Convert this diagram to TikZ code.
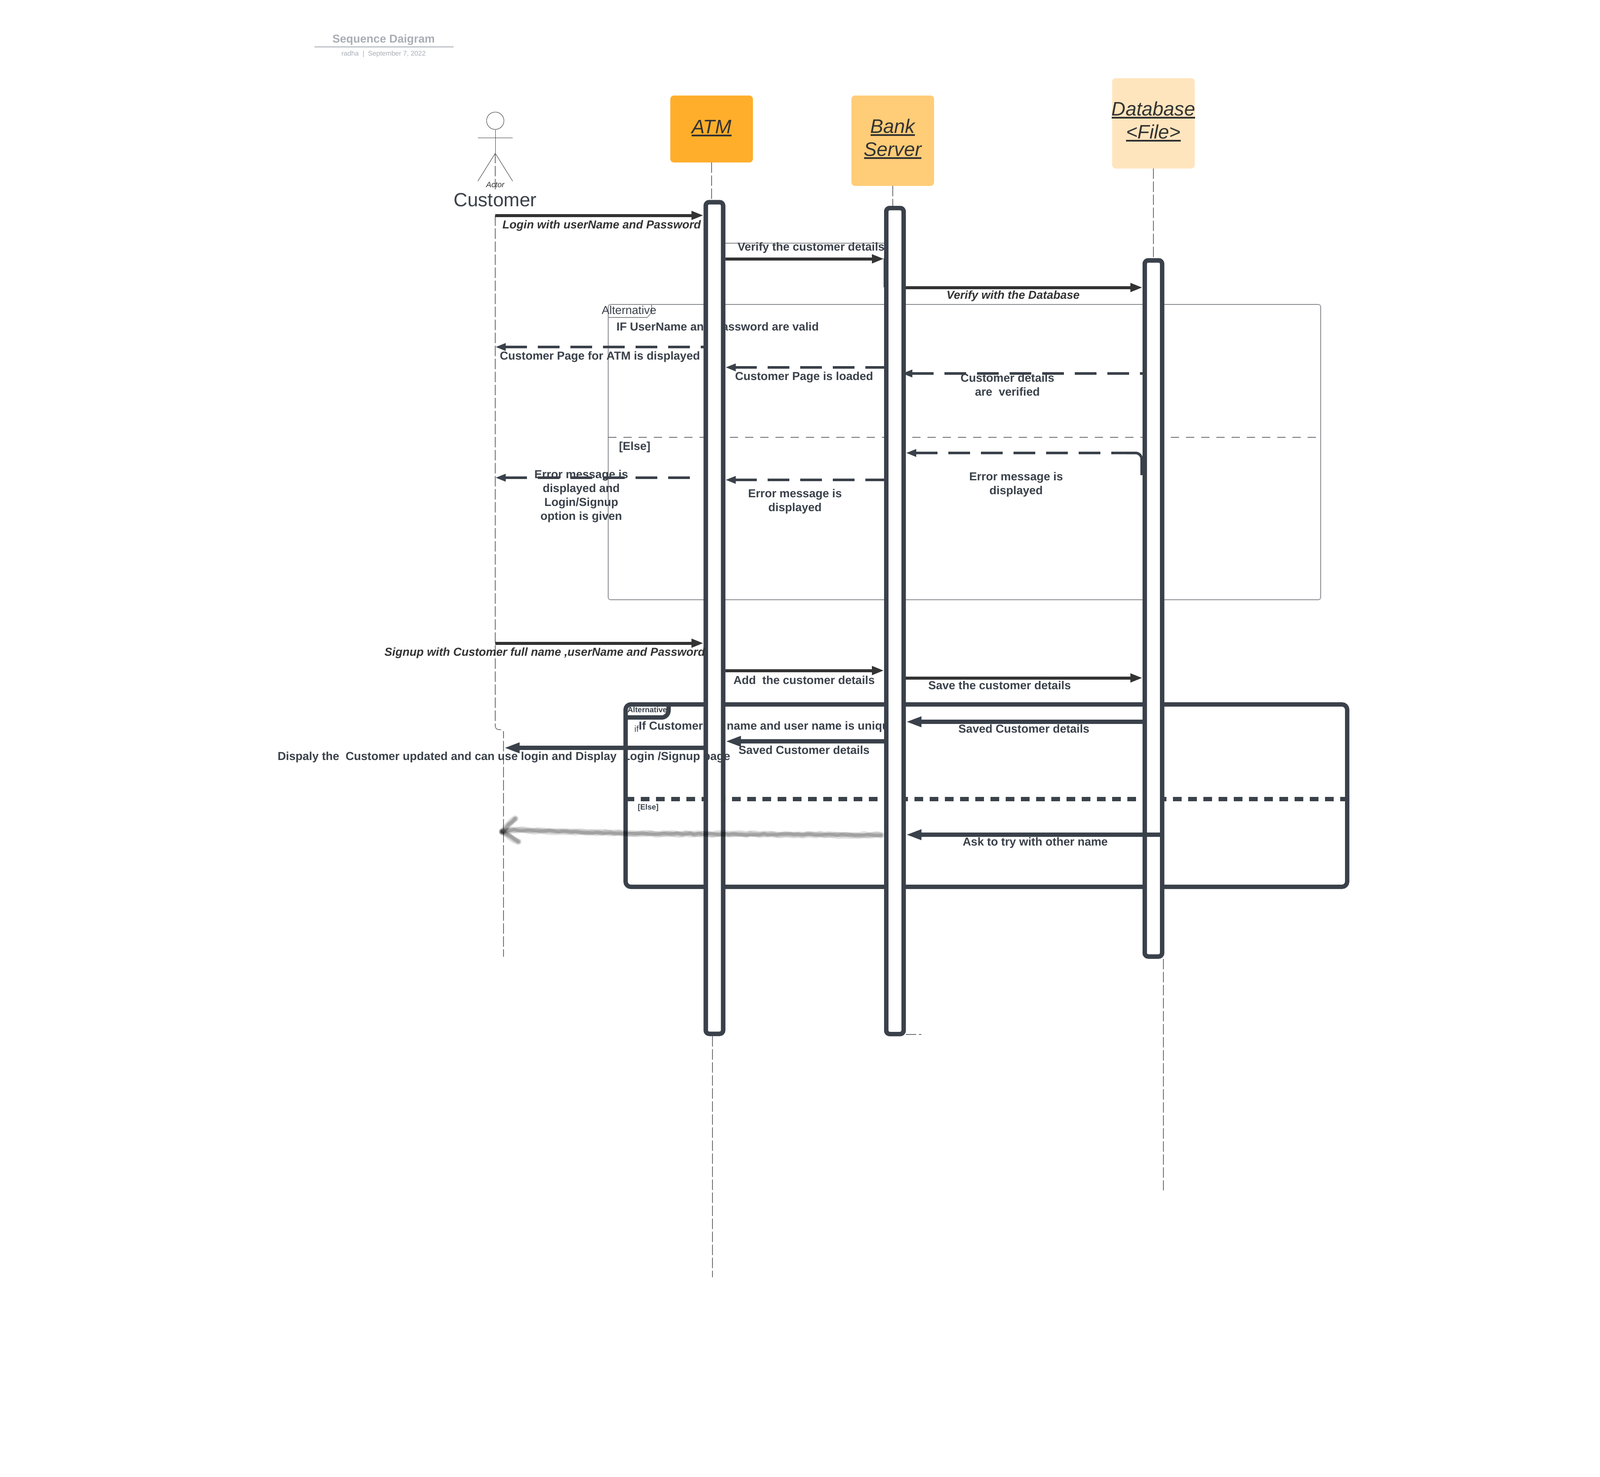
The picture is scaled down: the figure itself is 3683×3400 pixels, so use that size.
\documentclass[tikz,border=0pt]{standalone}
\usepackage{fontspec}
\setmainfont{Liberation Sans}
\usetikzlibrary{arrows.meta,decorations.pathmorphing}
\definecolor{ink}{HTML}{3A414A}
\definecolor{arrowink}{HTML}{333333}
\definecolor{atmcol}{HTML}{FFAE2B}
\definecolor{bankcol}{HTML}{FFCC78}
\definecolor{dbcol}{HTML}{FFE5BE}
\definecolor{titlecol}{HTML}{A9AEB6}
\definecolor{lifecol}{HTML}{6F7276}
\definecolor{framecol}{HTML}{8A8D91}
\newcommand{\ulbox}[1]{\sbox0{#1}\hbox{\rlap{\usebox0}\rlap{\raisebox{-3.2pt}{\rule{\wd0}{1.8pt}}}\kern\wd0}}
\tikzset{
  x=0.5pt,y=-0.5pt,
  lbl/.style={font=\fontsize{13.3}{16}\selectfont\bfseries,text=ink,inner sep=0pt,align=center,yshift=-1.2pt},
  ilbl/.style={font=\fontsize{13.3}{16}\selectfont\bfseries\itshape,text=arrowink,inner sep=0pt,align=center,yshift=-1.2pt},
  head/.style={font=\fontsize{22.5}{26.5}\selectfont\itshape,text=arrowink,inner sep=0pt,align=center,yshift=-1pt},
  objbox/.style={rounded corners=4pt,inner sep=0pt},
  activ/.style={draw=ink,line width=5pt,rounded corners=4pt,minimum width=20pt,inner sep=0pt},
  life/.style={draw=lifecol,line width=0.8pt,dash pattern=on 12pt off 3pt},
  msg/.style={draw=arrowink,line width=3.5pt,-{Triangle[length=14pt,width=9.5pt]}},
  dmsg/.style={draw=ink,line width=3pt,dash pattern=on 25pt off 12.5pt,{Triangle[length=12pt,width=8pt]}-},
  fatmsg/.style={draw=ink,line width=5pt,-{Triangle[length=18pt,width=11pt]}},
  frameA/.style={draw=framecol,line width=0.8pt},
  frameB/.style={draw=ink,line width=5pt},
  pencil/.style={draw=black,line cap=round,decorate,decoration={random steps,segment length=5pt,amplitude=0.8pt}},
}
\begin{document}
\begin{tikzpicture}
\useasboundingbox (0,0) rectangle (3683,3400);
\fill[white] (0,0) rectangle (3683,3400);

% title
\node[font=\fontsize{13.1}{16}\selectfont\bfseries,text=titlecol,inner sep=0pt] (title) at (883,92) {Sequence Daigram};
\coordinate (tl) at (724,108);
\coordinate (tr) at (1044,108);
\draw[titlecol,line width=1.2pt] (tl) -- (tr);
\node[font=\fontsize{7.8}{10}\selectfont,text=titlecol,inner sep=0pt] (subtitle) at (883,124) {radha\ \ |\ \ September 7, 2022};

% actor
\node[circle,draw=black!75,line width=0.5pt,minimum size=20pt,inner sep=0pt] (actorhead) at (1140,278) {};
\coordinate (shl) at (1100,317);
\coordinate (shr) at (1180,317);
\coordinate (hip) at (1140,353);
\coordinate (footl) at (1100,417);
\coordinate (footr) at (1180,417);
\draw[black!75,line width=0.5pt] (actorhead.south) -- (hip);
\draw[black!75,line width=0.5pt] (shl) -- (shr);
\draw[black!75,line width=0.5pt] (footl) -- (hip) -- (footr);
\node[font=\fontsize{9}{11}\selectfont\itshape,text=arrowink,inner sep=0pt] (actorlbl) at (1140,425) {Actor};
\node[font=\fontsize{22}{26}\selectfont,text=ink,inner sep=0pt] (customer) at (1140,460) {Customer};

% object boxes
\node[objbox,fill=atmcol,minimum width=95pt,minimum height=77pt] (atm) at (1638,297) {};
\node[objbox,fill=bankcol,minimum width=95pt,minimum height=104pt] (bank) at (2055,324) {};
\node[objbox,fill=dbcol,minimum width=95pt,minimum height=104pt] (db) at (2655,284) {};
\node[head] (atmlbl) at (1638,293) {\ulbox{ATM}};
\node[head] (banklbl) at (2055,318) {\ulbox{Bank}\\\ulbox{Server}};
\node[head] (dblbl) at (2655,278) {\ulbox{Database}\\\ulbox{<File>}};

% lifeline anchors
\coordinate (custupA) at (1140,352);
\coordinate (custupB) at (1140,436);
\coordinate (cust) at (1140,496);
\coordinate (custbend) at (1140,1680);
\coordinate (custB) at (1159,1692);
\coordinate (custEnd) at (1159,2203);
\coordinate (atmEnd) at (1640,2941);
\coordinate (dbEnd) at (2678,2741);
\coordinate (bankStub) at (2121,2382);
\coordinate (atmtop) at (1638,461);
\coordinate (banktop) at (2055,474);
\coordinate (dbtop) at (2655,595);

\draw[life] (custupA) -- (custupB);
\draw[life,rounded corners=4pt] (cust) -- (custbend) -- (custbend -| custB) -- (custB) -- (custEnd);
\draw[life] (atm.south) -- (atmtop);
\draw[life] (bank.south) -- (banktop);
\draw[life] (db.south) -- (dbtop);

% frame 1
\coordinate (fa1) at (1400,701);
\coordinate (fa2) at (3040,1381);
\coordinate (fa3) at (1500,701);
\coordinate (fa4) at (1500,719);
\coordinate (fa5) at (1490,731);
\coordinate (fa6) at (1400,731);
\draw[frameA,rounded corners=2.5pt] (fa1) rectangle (fa2);
\draw[frameA] (fa3) -- (fa4) -- (fa5) -- (fa6);
\coordinate (elseA) at (1400,1007);
\coordinate (elseB) at (3033,1007);
\draw[draw=lifecol,line width=0.7pt,dash pattern=on 9.5pt off 8pt] (elseA) -- (elseB);

% frame 2
\coordinate (fb1) at (1440,1622);
\coordinate (fb2) at (3101,2042);
\coordinate (fb3) at (1539,1622);
\coordinate (fb4) at (1539,1642);
\coordinate (fb5) at (1530,1652);
\coordinate (fb6) at (1440,1652);
\draw[frameB,rounded corners=6pt] (fb1) rectangle (fb2);
\draw[frameB,rounded corners=3pt] (fb3) -- (fb4) -- (fb5) -- (fb6);
\coordinate (elseC) at (1440,1840);
\coordinate (elseD) at (3096,1840);
\draw[draw=ink,line width=5pt,dash pattern=on 10pt off 7.5pt] (elseC) -- (elseD);

% texts hidden partly by the activation bars
\node[font=\fontsize{13.3}{16}\selectfont,text=ink,inner sep=0pt] (alt1) at (1448,714) {Alternative};
\node[lbl] (ifvalid) at (1652,750) {IF UserName and Password are valid};
\node[font=\fontsize{8.8}{10}\selectfont\bfseries,text=ink,inner sep=0pt] (alt2) at (1490,1634) {Alternative};
\node[lbl,anchor=west] (ifuniq) at (1470,1671) {If Customer full name and user name is unique};
\node[font=\fontsize{10}{10}\selectfont,text=ink,inner sep=0pt,anchor=west] (ifsmall) at (1460,1678) {if};

% activation bars: white inside
\node[activ,fill=white,minimum height=957.5pt] (atmbar) at (1644.5,1423) {};
\node[activ,fill=white,minimum height=951pt] (bankbar) at (2060,1430) {};
\node[activ,fill=white,minimum height=801.5pt] (dbbar) at (2655,1401) {};

% message levels
\coordinate (m1) at (0,496);
\coordinate (m2) at (0,560);
\coordinate (m3) at (0,596);
\coordinate (m4) at (0,662);
\coordinate (m5) at (0,799);
\coordinate (m6) at (0,846);
\coordinate (m7) at (0,860);
\coordinate (m8) at (0,1043);
\coordinate (m8b) at (0,1094);
\coordinate (m9) at (0,1105);
\coordinate (m10) at (0,1100);
\coordinate (m11) at (0,1481);
\coordinate (m12) at (0,1544);
\coordinate (m13) at (0,1561);
\coordinate (m14) at (0,1662);
\coordinate (m15) at (0,1707);
\coordinate (m16) at (0,1722);
\coordinate (m17) at (0,1922);
\coordinate (custx) at (1140,0);
\coordinate (custBx) at (1160,0);
\coordinate (dbwallx) at (2678,0);
\coordinate (err3x) at (1602,0);
\coordinate (tipx) at (2076,0);
\coordinate (elbowx) at (2593,0);
\coordinate (cornerx) at (2628,0);

% strip left of the bank bar
\coordinate (stripA) at (2036,596);
\coordinate (stripB) at (2036,660);
\coordinate (stripC) at (2036,708);
\draw[draw=ink,line width=2.5pt,line cap=round] (stripA) -- (stripB);
\draw[draw=framecol,line width=1.2pt] (stripB) -- (stripC);

\node[lbl] (lblprofile) at (1160,1741) {Dispaly the\ \ Customer updated and can use login and Display\ \ Login /Signup page};
\coordinate (fbl1) at (1440,1652);
\coordinate (fbl2) at (1440,1842);
\draw[frameB] (fbl1) -- (fbl2);
\draw[dmsg] (tipx |- m7) -- (dbbar.west |- m7);
\node[activ,minimum height=957.5pt] (atmwall) at (atmbar) {};
\node[activ,minimum height=951pt] (bankwall) at (bankbar) {};
\node[activ,minimum height=801.5pt] (dbwall) at (dbbar) {};

% messages
\draw[msg] (custx |- m1) -- (atmbar.west |- m1);
\draw[draw=framecol,line width=0.8pt] (atmbar.east |- m2) -- (bankbar.west |- m2);
\draw[msg] (atmbar.east |- m3) -- (bankbar.west |- m3);
\draw[msg] (bankbar.east |- m4) -- (dbbar.west |- m4);
\draw[dmsg] (custx |- m5) -- (atmbar.west |- m5);
\draw[dmsg] (atmbar.east |- m6) -- (bankbar.west |- m6);
\draw[dmsg] (bankbar.east |- m8) -- (elbowx |- m8);
\draw[draw=ink,line width=3pt,rounded corners=7pt] (elbowx |- m8) -- (cornerx |- m8) -- (cornerx |- m8b);
\draw[dmsg] (atmbar.east |- m9) -- (bankbar.west |- m9);
\draw[dmsg] (custx |- m10) -- (err3x |- m10);
\draw[msg] (custx |- m11) -- (atmbar.west |- m11);
\draw[msg] (atmbar.east |- m12) -- (bankbar.west |- m12);
\draw[msg] (bankbar.east |- m13) -- (dbbar.west |- m13);
\draw[fatmsg] (dbbar.west |- m14) -- (bankbar.east |- m14);
\draw[fatmsg] (bankbar.west |- m15) -- (atmbar.east |- m15);
\draw[fatmsg] (atmbar.west |- m16) -- (custBx |- m16);
\draw[fatmsg] (dbwallx |- m17) -- (bankbar.east |- m17);

% labels
\node[ilbl] (t1) at (1385,517) {Login with userName and Password};
\node[lbl] (t2) at (1867,568) {Verify the customer details};
\node[ilbl] (t3) at (2332,679) {Verify with the Database};
\node[lbl] (t4) at (1381,819) {Customer Page for ATM is displayed};
\node[lbl] (t5) at (1851,866) {Customer Page is loaded};
\node[lbl] (t6) at (2319,884) {Customer details\\are\ \ verified};
\node[lbl,text=ink] (t7) at (1461,1027) {[Else]};
\node[lbl] (t8) at (2339,1113) {Error message is\\displayed};
\node[lbl] (t9) at (1830,1152) {Error message is\\displayed};
\node[lbl] (t10) at (1338,1140) {Error message is\\displayed and\\Login/Signup\\option is given};
\node[ilbl] (t11) at (1254,1501) {Signup with Customer full name ,userName and Password};
\node[lbl] (t12) at (1851,1564) {Add\ \ the customer details};
\node[lbl] (t13) at (2301,1576) {Save the customer details};
\node[lbl] (t14) at (2357,1676) {Saved Customer details};
\node[lbl] (t15) at (1851,1725) {Saved Customer details};
\node[lbl] (t16) at (2383,1938) {Ask to try with other name};
\node[font=\fontsize{8.8}{10}\selectfont\bfseries,text=ink,inner sep=0pt] (t17) at (1492,1860) {[Else]};

% lower lifelines
\draw[life] (atmbar.south -| atmEnd) -- (atmEnd);
\draw[life] (dbbar.south -| dbEnd) -- (dbEnd);
\draw[life] (bankbar.south east |- bankStub) -- (bankStub);

% sketch arrow
\coordinate (skA) at (2028,1923);
\coordinate (skM) at (1434,1919);
\coordinate (skB) at (1179,1911);
\coordinate (skT) at (1156,1915);
\coordinate (skU) at (1186,1885);
\coordinate (skL) at (1193,1938);
\foreach \w/\o in {7.5/0.12,5.5/0.14,3.5/0.16}{
  \path[pencil,line width=\w pt,opacity=\o] (skA) -- (skM) -- (skB) -- (skT);
  \path[pencil,line width=\w pt,opacity=\o] (skU) -- (skT);
  \path[pencil,line width=\w pt,opacity=\o] (skL) -- (skT);
}
\end{tikzpicture}
\end{document}
